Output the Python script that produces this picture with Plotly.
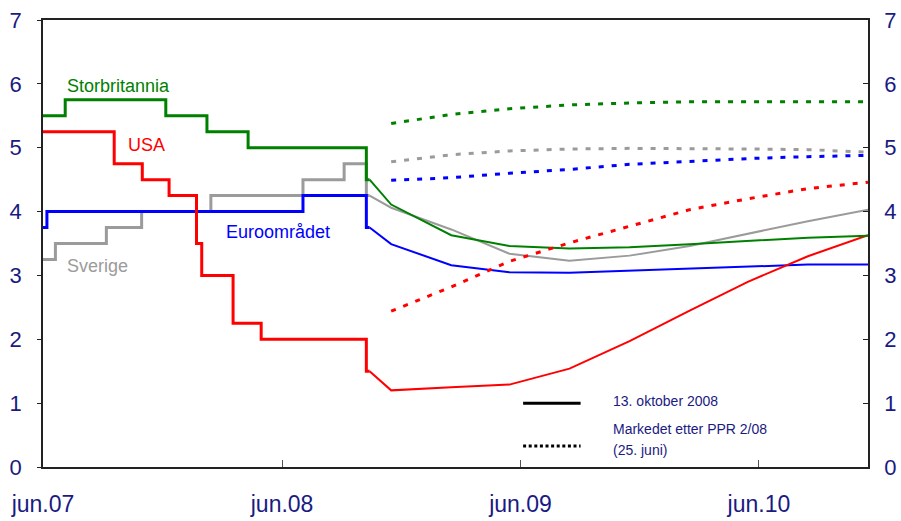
import plotly.graph_objects as go

# ---------------- data ----------------
# Historical policy rates (decision dates), step series
uk_hist_dates = ["2007-06-01", "2007-07-05", "2007-12-06", "2008-02-07", "2008-04-10", "2008-10-08", "2008-10-13"]
uk_hist_vals = [5.5, 5.75, 5.5, 5.25, 5.0, 4.5, 4.5]

us_hist_dates = ["2007-06-01", "2007-09-18", "2007-10-31", "2007-12-11", "2008-01-22", "2008-01-30",
                 "2008-03-18", "2008-04-30", "2008-10-08", "2008-10-13"]
us_hist_vals = [5.25, 4.75, 4.5, 4.25, 3.5, 3.0, 2.25, 2.0, 1.5, 1.5]

ez_hist_dates = ["2007-06-01", "2007-06-07", "2008-07-03", "2008-10-08", "2008-10-13"]
ez_hist_vals = [3.75, 4.0, 4.25, 3.75, 3.75]

se_hist_dates = ["2007-06-01", "2007-06-20", "2007-09-06", "2007-10-30", "2008-02-13", "2008-07-03",
                 "2008-09-04", "2008-10-08", "2008-10-13"]
se_hist_vals = [3.25, 3.5, 3.75, 4.0, 4.25, 4.5, 4.75, 4.25, 4.25]

# Market expectations 13 October 2008
fwd_dates = ["2008-10-13", "2008-11-15", "2009-02-15", "2009-05-15", "2009-08-15", "2009-11-15",
             "2010-02-15", "2010-05-15", "2010-08-15", "2010-11-15"]
uk_fwd = [4.5, 4.11, 3.63, 3.46, 3.42, 3.44, 3.49, 3.54, 3.59, 3.62]
us_fwd = [1.5, 1.20, 1.25, 1.29, 1.54, 1.97, 2.45, 2.90, 3.30, 3.63]
ez_fwd = [3.75, 3.49, 3.16, 3.05, 3.04, 3.07, 3.11, 3.14, 3.17, 3.17]
se_fwd = [4.25, 4.06, 3.72, 3.34, 3.23, 3.31, 3.46, 3.65, 3.85, 4.03]

# Market after PPR 2/08 (25 June)
ppr_dates = ["2008-11-15", "2009-02-15", "2009-05-15", "2009-08-15", "2009-11-15",
             "2010-02-15", "2010-05-15", "2010-08-15", "2010-11-15"]
uk_ppr = [5.38, 5.52, 5.61, 5.67, 5.70, 5.72, 5.72, 5.72, 5.72]
se_ppr = [4.78, 4.89, 4.95, 4.98, 4.99, 4.99, 4.98, 4.97, 4.93]
ez_ppr = [4.49, 4.53, 4.60, 4.66, 4.74, 4.79, 4.83, 4.86, 4.88]
us_ppr = [2.44, 2.82, 3.22, 3.51, 3.77, 4.03, 4.20, 4.36, 4.46]

x_ticks = ["2007-06-01", "2008-06-01", "2009-06-01", "2010-06-01"]
x_tick_labels = ["jun.07", "jun.08", "jun.09", "jun.10"]
y_ticks = [0, 1, 2, 3, 4, 5, 6, 7]

# ---------------- style ----------------
GREEN = "#008000"
RED = "#ff0000"
BLUE = "#0000ff"
GRAY = "#9b9b9b"
NAVY = "#1a1a82"
FONT = "Liberation Sans, Arial, sans-serif"
DOT = "5px,8px"

fig = go.Figure()

series = [
    ("Sverige", GRAY, se_hist_dates, se_hist_vals, se_fwd, se_ppr),
    ("Euroområdet", BLUE, ez_hist_dates, ez_hist_vals, ez_fwd, ez_ppr),
    ("USA", RED, us_hist_dates, us_hist_vals, us_fwd, us_ppr),
    ("Storbritannia", GREEN, uk_hist_dates, uk_hist_vals, uk_fwd, uk_ppr),
]

# dotted series are plotted against the right-hand axis (same 0-7 scale)
for name, col, hd, hv, fv, pv in series:
    fig.add_trace(go.Scatter(x=ppr_dates, y=pv, mode="lines", yaxis="y2",
                             line=dict(color=col, width=3, dash=DOT), showlegend=False))
for name, col, hd, hv, fv, pv in series:
    fig.add_trace(go.Scatter(x=fwd_dates, y=fv, mode="lines",
                             line=dict(color=col, width=2), showlegend=False))
for name, col, hd, hv, fv, pv in series:
    fig.add_trace(go.Scatter(x=hd, y=hv, mode="lines", line_shape="hv",
                             line=dict(color=col, width=3), showlegend=False))

# series labels
labels = [
    ("Storbritannia", GREEN, "2007-07-04", 5.96),
    ("USA", RED, "2007-10-06", 5.04),
    ("Euroområdet", BLUE, "2008-03-04", 3.68),
    ("Sverige", GRAY, "2007-07-04", 3.14),
]
for txt, col, xx, yy in labels:
    fig.add_annotation(x=xx, y=yy, text=txt, showarrow=False, xanchor="left", yanchor="middle",
                       font=dict(family=FONT, size=18, color=col))

# legend (drawn manually)
fig.add_shape(type="line", x0="2009-06-05", x1="2009-09-01", y0=1.0, y1=1.0,
              line=dict(color="black", width=3))
fig.add_shape(type="line", x0="2009-06-05", x1="2009-09-01", y0=0.33, y1=0.33,
              line=dict(color="black", width=3, dash="3px,2.6px"))
fig.add_annotation(x="2009-10-18", y=1.04, text="13. oktober 2008", showarrow=False,
                   xanchor="left", yanchor="middle", font=dict(family=FONT, size=14, color=NAVY))
fig.add_annotation(x="2009-10-18", y=0.60, text="Markedet etter PPR 2/08", showarrow=False,
                   xanchor="left", yanchor="middle", font=dict(family=FONT, size=14, color=NAVY))
fig.add_annotation(x="2009-10-18", y=0.26, text="(25. juni)", showarrow=False,
                   xanchor="left", yanchor="middle", font=dict(family=FONT, size=14, color=NAVY))

fig.update_layout(
    width=901, height=521,
    margin=dict(l=43, r=33, t=20, b=54),
    paper_bgcolor="white", plot_bgcolor="white",
    font=dict(family=FONT, color=NAVY),
    showlegend=False,
    xaxis=dict(
        type="date", range=["2007-06-01", "2010-11-15"],
        tickmode="array", tickvals=x_ticks, ticktext=x_tick_labels,
        ticks="inside", ticklen=7, tickcolor="#555", tickwidth=1,
        showline=True, linecolor="#222", linewidth=1.5, mirror=True,
        showgrid=False, zeroline=False, automargin=False,
        tickfont=dict(family=FONT, size=23, color=NAVY),
        ticklabelstandoff=16,
    ),
    yaxis=dict(
        range=[0, 7], tickmode="array", tickvals=y_ticks,
        ticks="outside", ticklen=4, tickcolor="#222",
        showline=True, linecolor="#222", linewidth=1.5,
        showgrid=False, zeroline=False, automargin=False,
        tickfont=dict(family=FONT, size=22, color=NAVY),
        ticklabelstandoff=11,
    ),
    yaxis2=dict(
        range=[0, 7], tickmode="array", tickvals=y_ticks, overlaying="y", side="right",
        ticks="inside", ticklen=5, tickcolor="#222",
        showline=True, linecolor="#222", linewidth=1.5,
        showgrid=False, zeroline=False, automargin=False,
        tickfont=dict(family=FONT, size=22, color=NAVY),
        ticklabelstandoff=10,
    ),
)

fig.write_html("out.html", config={"displayModeBar": False},
               post_script="document.body.style.margin='0';document.body.style.overflow='hidden';")
